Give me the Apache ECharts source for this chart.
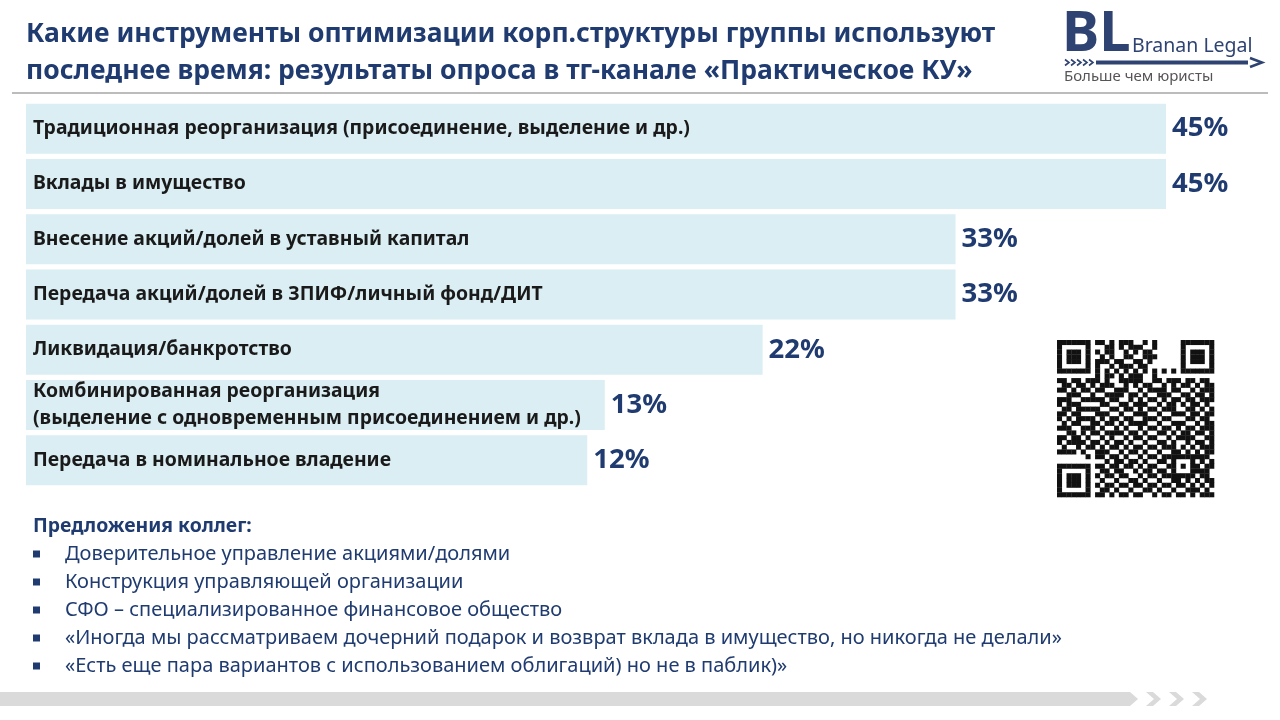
<!DOCTYPE html>
<html><head><meta charset="utf-8">
<script src="https://cdn.jsdelivr.net/npm/echarts@6/dist/echarts.min.js"></script>
<style>html,body{margin:0;padding:0;background:#fff}#c{width:1280px;height:720px}</style>
</head><body><div id="c"></div>
<script>
const titleLines = [
  'Какие инструменты оптимизации корп.структуры группы используют',
  'последнее время: результаты опроса в тг-канале «Практическое КУ»'
];
const categories = [
  'Традиционная реорганизация (присоединение, выделение и др.)',
  'Вклады в имущество',
  'Внесение акций/долей в уставный капитал',
  'Передача акций/долей в ЗПИФ/личный фонд/ДИТ',
  'Ликвидация/банкротство',
  'Комбинированная реорганизация\n(выделение с одновременным присоединением и др.)',
  'Передача в номинальное владение'
];
const values = [45, 45, 33, 33, 22, 13, 12];
const suggestionsTitle = 'Предложения коллег:';
const suggestions = [
  'Доверительное управление акциями/долями',
  'Конструкция управляющей организации',
  'СФО – специализированное финансовое общество',
  '«Иногда мы рассматриваем дочерний подарок и возврат вклада в имущество, но никогда не делали»',
  '«Есть еще пара вариантов с использованием облигаций) но не в паблик)»'
];
const logoMain = 'BL';
const logoName = 'Branan Legal';
const logoSlogan = 'Больше чем юристы';
// decorative QR pattern (hand-typed rows, finder/timing patterns added in code)
const qrRows = [
"000000001101011100101000000000000",
"000000000011010111001000000000000",
"000000001011001010110000000000000",
"000000000101001100111000000000000",
"000000001110110011010000000000000",
"000000001001011101100000000000000",
"000000000101010101010000000000000",
"000000001011010111001000000000000",
"110110111010011111001101110110110",
"011011010111001010110010101101011",
"110101101100111001011110110010111",
"001110110011110110100111001101101",
"111001011101100101011010110110111",
"101110100110011011100101101011010",
"011011011001101101011011100110101",
"110110101110010011100100111011011",
"101011110101101100111011000110110",
"010110011011010111100100111001011",
"111001110100101001011011010110111",
"001101011011110110100110101101101",
"110110100101001011011001011110011",
"101111011010110100100110100101101",
"010010110101101011011011101010111",
"111101001110010110100100110101011",
"000000001101101001011011011111110",
"000000000010110110100110000010101",
"000000001101101101011001011101011",
"000000000110110010110110100011110",
"000000001011011001011011011110110",
"000000000100100110100100110101011",
"000000001011011011011011011010101",
"000000000110100100110100100111010",
"000000001101011011001011011010111"
];

const DARK = '#1f3b70';
const FONT = 'Noto Sans';

function qrMatrix() {
  const n = 33;
  const m = [];
  for (let r = 0; r < n; r++) {
    const s = (qrRows[r] || '').padEnd(n, '0').slice(0, n);
    m.push(s.split('').map(ch => ch === '1'));
  }
  const finder = (r0, c0) => {
    for (let r = -1; r <= 7; r++) for (let c = -1; c <= 7; c++) {
      const rr = r0 + r, cc = c0 + c;
      if (rr < 0 || cc < 0 || rr >= n || cc >= n) continue;
      const on = r >= 0 && r <= 6 && c >= 0 && c <= 6 &&
        (r === 0 || r === 6 || c === 0 || c === 6 || (r >= 2 && r <= 4 && c >= 2 && c <= 4));
      m[rr][cc] = on;
    }
  };
  finder(0, 0); finder(0, n - 7); finder(n - 7, 0);
  for (let i = 8; i < n - 8; i++) { m[6][i] = i % 2 === 0; m[i][6] = i % 2 === 0; }
  for (let r = -2; r <= 2; r++) for (let c = -2; c <= 2; c++) {
    m[26 + r][26 + c] = Math.max(Math.abs(r), Math.abs(c)) !== 1;
  }
  return m;
}

function qrGraphic(x0, y0, size) {
  const m = qrMatrix();
  const cell = size / m.length;
  const children = [];
  m.forEach((row, r) => row.forEach((on, c) => {
    if (on) children.push({ type: 'rect', shape: { x: x0 + c * cell, y: y0 + r * cell, width: cell + 0.3, height: cell + 0.3 }, style: { fill: '#111' } });
  }));
  return { type: 'group', children };
}

const graphics = [];
// title
titleLines.forEach((t, i) => graphics.push({
  type: 'text', x: 26, y: 34 + i * 37,
  style: { text: t, font: 'bold 26.5px "' + FONT + '"', fill: DARK, textVerticalAlign: 'middle' }
}));
// separator
graphics.push({ type: 'line', shape: { x1: 12, y1: 93, x2: 1268, y2: 93 }, style: { stroke: '#a6a6a6', lineWidth: 1.5 } });
// logo
graphics.push({ type: 'text', x: 1062, y: 35, style: { text: logoMain, font: 'bold 56px "' + FONT + '"', fill: '#2f4372', textVerticalAlign: 'middle' } });
graphics.push({ type: 'text', x: 1132, y: 46, style: { text: logoName, font: '19.5px "' + FONT + '"', fill: '#2f4372', textVerticalAlign: 'middle' } });
graphics.push({ type: 'rect', shape: { x: 1096, y: 60.5, width: 152, height: 4 }, style: { fill: '#2f4372' } });
graphics.push({ type: 'polyline', shape: { points: [[1250, 58], [1262, 62.5], [1250, 67]] }, style: { stroke: '#2f4372', lineWidth: 2.5, fill: null } });
for (let i = 0; i < 5; i++) {
  graphics.push({ type: 'polyline', shape: { points: [[1065 + i * 6, 59.5], [1069 + i * 6, 62.5], [1065 + i * 6, 65.5]] }, style: { stroke: '#2f4372', lineWidth: 1.6, fill: null } });
}
graphics.push({ type: 'text', x: 1064, y: 77, style: { text: logoSlogan, font: '15px "' + FONT + '"', fill: '#555', textVerticalAlign: 'middle' } });
// suggestions
graphics.push({ type: 'text', x: 33, y: 526, style: { text: suggestionsTitle, font: 'bold 19.4px "' + FONT + '"', fill: DARK, textVerticalAlign: 'middle' } });
suggestions.forEach((s, i) => {
  const y = 554 + i * 28;
  graphics.push({ type: 'rect', shape: { x: 33, y: y - 3.5, width: 7, height: 7 }, style: { fill: DARK } });
  graphics.push({ type: 'text', x: 65, y: y, style: { text: s, font: '20px "' + FONT + '"', fill: DARK, textVerticalAlign: 'middle' } });
});
// bottom bar
graphics.push({ type: 'polygon', shape: { points: [[0, 692], [1130, 692], [1138, 699], [1130, 706], [0, 706]] }, style: { fill: '#dadada' } });
for (let i = 0; i < 3; i++) {
  const x = 1146 + i * 23;
  graphics.push({ type: 'polygon', shape: { points: [[x, 692], [x + 7, 692], [x + 15, 699], [x + 7, 706], [x, 706], [x + 8, 699]] }, style: { fill: '#dadada' } });
}
// QR
graphics.push(qrGraphic(1057, 340, 157));

const chart = echarts.init(document.getElementById('c'), null, { renderer: 'canvas' });
chart.setOption({
  animation: false,
  backgroundColor: '#fff',
  grid: { left: 26, right: 26.3, top: 101, bottom: 232, containLabel: false },
  xAxis: {
    type: 'value', min: -20, max: 50, startValue: -20,
    axisLine: { show: false }, axisTick: { show: false }, axisLabel: { show: false }, splitLine: { show: false }
  },
  yAxis: {
    type: 'category', data: categories, inverse: true, z: 10,
    axisLine: { show: false }, axisTick: { show: false },
    axisLabel: {
      inside: true, margin: 7, align: 'left',
      color: '#1a1a1a', fontFamily: FONT, fontWeight: 'bold', fontSize: 19.4, lineHeight: 27
    }
  },
  series: [{
    type: 'bar', data: values, barWidth: 50,
    itemStyle: { color: '#daeef3' },
    label: {
      show: true, position: 'right', distance: 6, formatter: '{c}%',
      color: DARK, fontFamily: FONT, fontWeight: 'bold', fontSize: 27.5
    }
  }],
  graphic: graphics
});
</script></body></html>
